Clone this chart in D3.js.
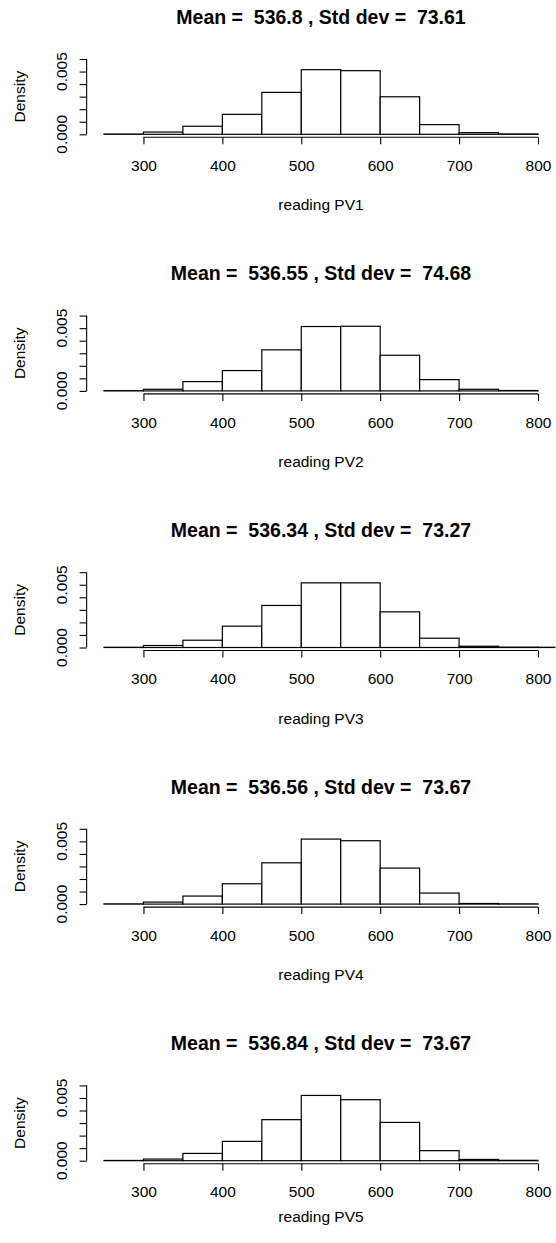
<!DOCTYPE html>
<html>
<head>
<meta charset="utf-8">
<script src="https://cdn.jsdelivr.net/npm/d3@7"></script>
<style>
  body { margin: 0; background: #fff; }
  svg { display: block; font-family: "Liberation Sans", Arial, sans-serif; }
  .title { font-weight: bold; font-size: 19.5px; white-space: pre; }
  .lab { font-size: 15.5px; }
</style>
</head>
<body>
<div id="chart"></div>
<script>

// bin edges start at 250, width 50
var binStart = 250, binWidth = 50;

var titles = [
  "Mean =  536.8 , Std dev =  73.61",
  "Mean =  536.55 , Std dev =  74.68",
  "Mean =  536.34 , Std dev =  73.27",
  "Mean =  536.56 , Std dev =  73.67",
  "Mean =  536.84 , Std dev =  73.67"
];
var xLabels = ["reading PV1", "reading PV2", "reading PV3", "reading PV4", "reading PV5"];

// densities per bin (250-300, 300-350, ...)
var pv1 = [0.00002, 0.00018, 0.00064, 0.00159, 0.00334, 0.00515, 0.00507, 0.00299, 0.00077, 0.00013, 0.00003];
var pv2 = [0.00002, 0.00013, 0.00074, 0.00162, 0.00327, 0.00513, 0.00515, 0.00284, 0.00090, 0.00013, 0.00003];
var pv3 = [0.00002, 0.00016, 0.00058, 0.00170, 0.00335, 0.00515, 0.00515, 0.00284, 0.00074, 0.00010, 0.00003, 0.00002];
var pv4 = [0.00002, 0.00016, 0.00064, 0.00162, 0.00329, 0.00518, 0.00505, 0.00287, 0.00088, 0.00005, 0.00002];
var pv5 = [0.00002, 0.00013, 0.00058, 0.00154, 0.00327, 0.00520, 0.00486, 0.00305, 0.00080, 0.00010, 0.00003];
var series = [pv1, pv2, pv3, pv4, pv5];

var xTicks = [300, 400, 500, 600, 700, 800];
var yTicks = [0, 0.001, 0.002, 0.003, 0.004, 0.005, 0.006];
var yLabelled = [0, 0.005];

var width = 556, height = 1243;
var panelH = 256.6;

var x = d3.scaleLinear().domain([250, 800]).range([104, 538]);
var y = d3.scaleLinear().domain([0, 0.006]).range([134.3, 59]);

// R style plot region: 4% extension of the limits
var usrX = [228, 822], usrY = [-0.00024, 0.00624];

var svg = d3.select("#chart").append("svg")
    .attr("width", width)
    .attr("height", height);

svg.append("defs").append("clipPath")
    .attr("id", "plotclip")
  .append("rect")
    .attr("x", x(usrX[0]))
    .attr("y", y(usrY[1]))
    .attr("width", x(usrX[1]) - x(usrX[0]))
    .attr("height", y(usrY[0]) - y(usrY[1]));

series.forEach(function(dens, i) {
  var g = svg.append("g")
      .attr("transform", "translate(0," + (i * panelH) + ")");

  var bins = dens.map(function(d, j) {
    return {x0: binStart + j * binWidth, x1: binStart + (j + 1) * binWidth, d: d};
  });

  g.append("g")
      .attr("clip-path", "url(#plotclip)")
    .selectAll("rect")
      .data(bins)
    .enter().append("rect")
      .attr("x", function(b) { return x(b.x0); })
      .attr("y", function(b) { return y(b.d); })
      .attr("width", function(b) { return x(b.x1) - x(b.x0); })
      .attr("height", function(b) { return y(0) - y(b.d); })
      .attr("fill", "#fff")
      .attr("stroke", "#000")
      .attr("stroke-width", 1.2);

  // x axis (R draws it at the bottom of the plot region)
  var xAxis = d3.axisBottom(x)
      .tickValues(xTicks)
      .tickSize(7)
      .tickFormat(d3.format("d"));

  var xa = g.append("g")
      .attr("transform", "translate(0," + y(usrY[0]) + ")")
      .call(xAxis);
  xa.select(".domain").attr("d", "M" + x(xTicks[0]) + ",0H" + x(xTicks[xTicks.length - 1]));
  xa.selectAll("line, path").attr("stroke", "#000").attr("stroke-width", 1.1);
  xa.selectAll("text")
      .attr("font-size", 15.5)
      .attr("font-family", "Liberation Sans, Arial, sans-serif")
      .attr("fill", "#000")
      .attr("y", 28.3)
      .attr("dy", "0.35em");

  // y axis
  var yAxis = d3.axisLeft(y)
      .tickValues(yTicks)
      .tickSize(7)
      .tickFormat("");

  var ya = g.append("g")
      .attr("transform", "translate(" + x(usrX[0]) + ",0)")
      .call(yAxis);
  ya.select(".domain").attr("d", "M0," + y(yTicks[0]) + "V" + y(yTicks[yTicks.length - 1]));
  ya.selectAll("line, path").attr("stroke", "#000").attr("stroke-width", 1.1);

  g.selectAll(".ylab")
      .data(yLabelled)
    .enter().append("text")
      .attr("class", "lab")
      .attr("transform", function(d) { return "translate(62," + y(d) + ") rotate(-90)"; })
      .attr("text-anchor", "middle")
      .attr("dy", "0.35em")
      .text(function(d) { return d3.format(".3f")(d); });

  g.append("text")
      .attr("class", "lab")
      .attr("transform", "translate(20," + ((y(usrY[0]) + y(usrY[1])) / 2) + ") rotate(-90)")
      .attr("text-anchor", "middle")
      .attr("dy", "0.35em")
      .text("Density");

  g.append("text")
      .attr("class", "title")
      .attr("x", (x(usrX[0]) + x(usrX[1])) / 2)
      .attr("y", 17)
      .attr("dy", "0.35em")
      .attr("text-anchor", "middle")
      .text(titles[i]);

  // the last panel's label sits closer to its axis in the picture (cut bottom margin)
  var last = i === series.length - 1;
  g.append("text")
      .attr("class", "lab")
      .attr("x", (x(usrX[0]) + x(usrX[1])) / 2)
      .attr("y", last ? 190 : 205)
      .attr("dy", "0.35em")
      .attr("text-anchor", "middle")
      .text(xLabels[i]);
});

</script>
</body>
</html>
